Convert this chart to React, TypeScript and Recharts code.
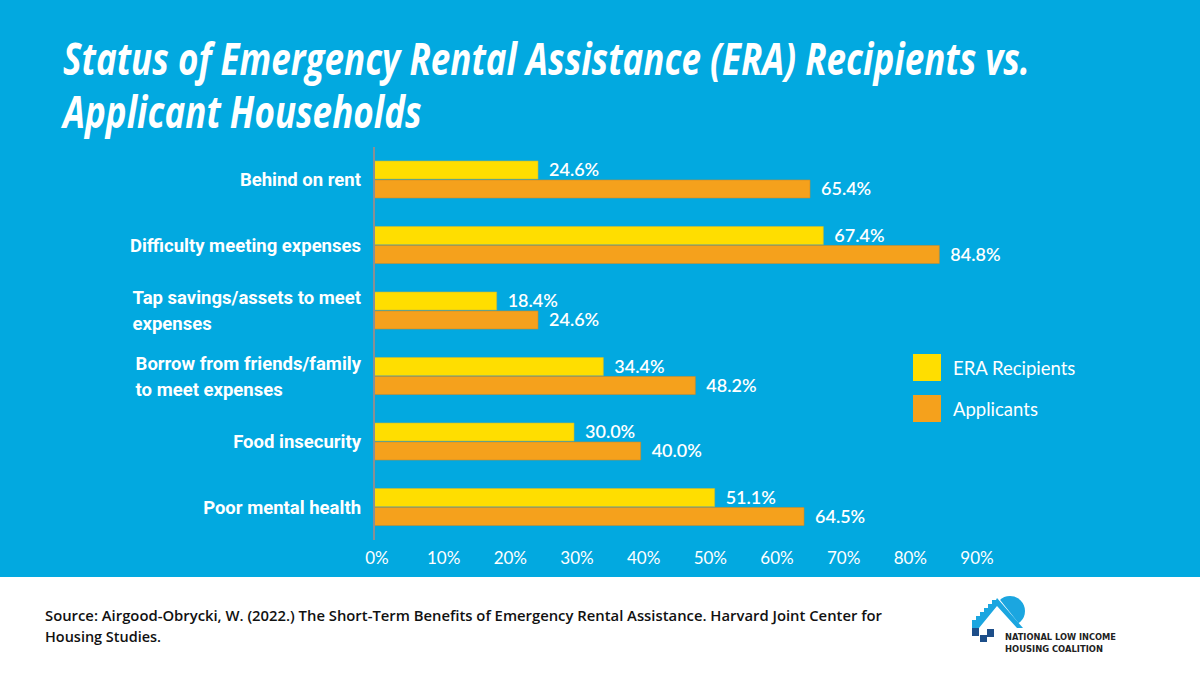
import { BarChart, Bar, XAxis, YAxis, LabelList, Legend } from "recharts";

const categories = [
  "Behind on rent",
  "Difficulty meeting expenses",
  "Tap savings/assets to meet\nexpenses",
  "Borrow from friends/family\nto meet expenses",
  "Food insecurity",
  "Poor mental health",
];
const eraRecipients = [24.6, 67.4, 18.4, 34.4, 30.0, 51.1];
const applicants = [65.4, 84.8, 24.6, 48.2, 40.0, 64.5];
const xTicks = [0, 10, 20, 30, 40, 50, 60, 70, 80, 90];
const titleLines = ["Status of Emergency Rental Assistance (ERA) Recipients vs.", "Applicant Households"];

const data = categories.map((name, i) => ({
  name,
  era: eraRecipients[i],
  app: applicants[i],
}));

const BLUE = "#02A9E0";
const YELLOW = "#FFDE00";
const ORANGE = "#F5A11C";
const LABEL_FONT = "bold 18.5px Roboto";
const TITLE_FONT = "italic 700 44px 'Open Sans'";

let ctx: CanvasRenderingContext2D | null = null;
function textWidth(t: string, font: string) {
  if (!ctx) ctx = document.createElement("canvas").getContext("2d");
  if (!ctx) return t.length * 9;
  ctx.font = font;
  return ctx.measureText(t).width;
}

function CategoryTick({ x, y, payload }: any) {
  const lines: string[] = String(payload.value).split("\n");
  const right = x - 5;
  if (lines.length === 1) {
    return (
      <text x={right} y={y} dy="0.36em" textAnchor="end" fill="#fff"
        style={{ font: LABEL_FONT }}>
        {lines[0]}
      </text>
    );
  }
  const w = Math.max(...lines.map((l) => textWidth(l, LABEL_FONT)));
  return (
    <text x={right - w} y={y} textAnchor="start" fill="#fff" style={{ font: LABEL_FONT }}>
      {lines.map((l, i) => (
        <tspan key={i} x={right - w} dy={i === 0 ? "-0.35em" : "1.4em"}>{l}</tspan>
      ))}
    </text>
  );
}

function LegendContent({ payload }: any) {
  return (
    <div>
      {(payload || []).map((p: any, i: number) => (
        <div key={i} style={{ display: "flex", alignItems: "center", height: 41 }}>
          <div style={{ width: 28, height: 27, background: p.color, marginRight: 12 }} />
          <span style={{ color: "#fff", font: "18.5px Lato" }}>{p.value}</span>
        </div>
      ))}
    </div>
  );
}

// condensed look: squeeze the first line to its width in the original, same factor for line 2
function Title() {
  const sx = 967 / textWidth(titleLines[0], TITLE_FONT);
  return (
    <g>
      {titleLines.map((t, i) => (
        <g key={i} transform={`translate(63, ${75 + i * 53}) scale(${sx}, 1)`}>
          <text x={0} y={0} fill="#fff" style={{ font: TITLE_FONT }}>{t}</text>
        </g>
      ))}
    </g>
  );
}

function Logo() {
  return (
    <g>
      <defs>
        <clipPath id="roofClip">
          <polygon points="997,596 1030,596 1030,630 1024,630" />
        </clipPath>
      </defs>
      <circle cx={1010} cy={611} r={15} fill="#1BA6E0" clipPath="url(#roofClip)" />
      <polygon
        points="972,628 972,620 976,620 976,616 980,616 980,612 984,612 984,608 988,608 988,604 992,604 992,600 996,600 997,598 1023,628 1017,628 997,606 979,628"
        fill="#1BA6E0"
      />
      <rect x={972} y={628} width={7} height={8} fill="#1D4E89" />
      <rect x={980} y={635} width={7} height={7} fill="#1D4E89" />
      <rect x={987} y={629} width={7} height={8} fill="#1D4E89" />
      <text x={1005} y={640} fill="#222" style={{ font: "bold 9.5px 'DejaVu Sans'" }}
        textLength={111} lengthAdjust="spacingAndGlyphs">NATIONAL LOW INCOME</text>
      <text x={1005} y={652} fill="#222" style={{ font: "bold 9.5px 'DejaVu Sans'" }}
        textLength={98} lengthAdjust="spacingAndGlyphs">HOUSING COALITION</text>
    </g>
  );
}

export default function App() {
  const fmt = (v: any) => `${Number(v).toFixed(1)}%`;
  const labelStyle = { fill: "#fff", fontSize: 18, fontFamily: "Lato", fontWeight: 600 };
  return (
    <div style={{ position: "absolute", left: 0, top: 0, width: 1200, height: 675, background: "#fff", overflow: "hidden" }}>
      <div style={{ position: "absolute", left: 0, top: 0, width: 1200, height: 577, background: BLUE }}>
        <BarChart
          width={1200}
          height={577}
          data={data}
          layout="vertical"
          margin={{ top: 147, right: 226, bottom: 7, left: 114 }}
          barSize={18}
          barGap={1}
        >
          <XAxis
            type="number"
            domain={[0, 90]}
            ticks={xTicks}
            tickFormatter={(v) => `${v}%`}
            axisLine={false}
            tickLine={false}
            tickMargin={6}
            height={30}
            tick={{ fill: "#fff", fontSize: 17, fontFamily: "Lato", dx: 3 }}
          />
          <YAxis
            type="category"
            dataKey="name"
            width={260}
            axisLine={{ stroke: "#8a8f94", strokeWidth: 2 }}
            tickLine={false}
            tick={<CategoryTick />}
            interval={0}
          />
          <Legend
            layout="vertical"
            align="center"
            verticalAlign="middle"
            itemSorter={(it: any) => (it.dataKey === "era" ? 0 : 1)}
            content={<LegendContent />}
            wrapperStyle={{ position: "absolute", left: 913, top: 347, width: 200 }}
          />
          <Bar dataKey="era" name="ERA Recipients" fill={YELLOW} stroke="#c8b83a" strokeWidth={0.6} isAnimationActive={false}>
            <LabelList dataKey="era" position="right" offset={11} formatter={fmt} style={labelStyle} />
          </Bar>
          <Bar dataKey="app" name="Applicants" fill={ORANGE} stroke="#c98a2a" strokeWidth={0.6} isAnimationActive={false}>
            <LabelList dataKey="app" position="right" offset={11} formatter={fmt} style={labelStyle} />
          </Bar>
        </BarChart>
      </div>
      <svg width={1200} height={675} style={{ position: "absolute", left: 0, top: 0, pointerEvents: "none" }}>
        <Title />
        <text x={45} y={621} fill="#111" textLength={837} lengthAdjust="spacingAndGlyphs"
          style={{ font: "600 15px 'Open Sans'" }}>
          Source: Airgood-Obrycki, W. (2022.) The Short-Term Benefits of Emergency Rental Assistance. Harvard Joint Center for
        </text>
        <text x={45} y={642} fill="#111" textLength={116} lengthAdjust="spacingAndGlyphs"
          style={{ font: "600 15px 'Open Sans'" }}>
          Housing Studies.
        </text>
        <Logo />
      </svg>
    </div>
  );
}
